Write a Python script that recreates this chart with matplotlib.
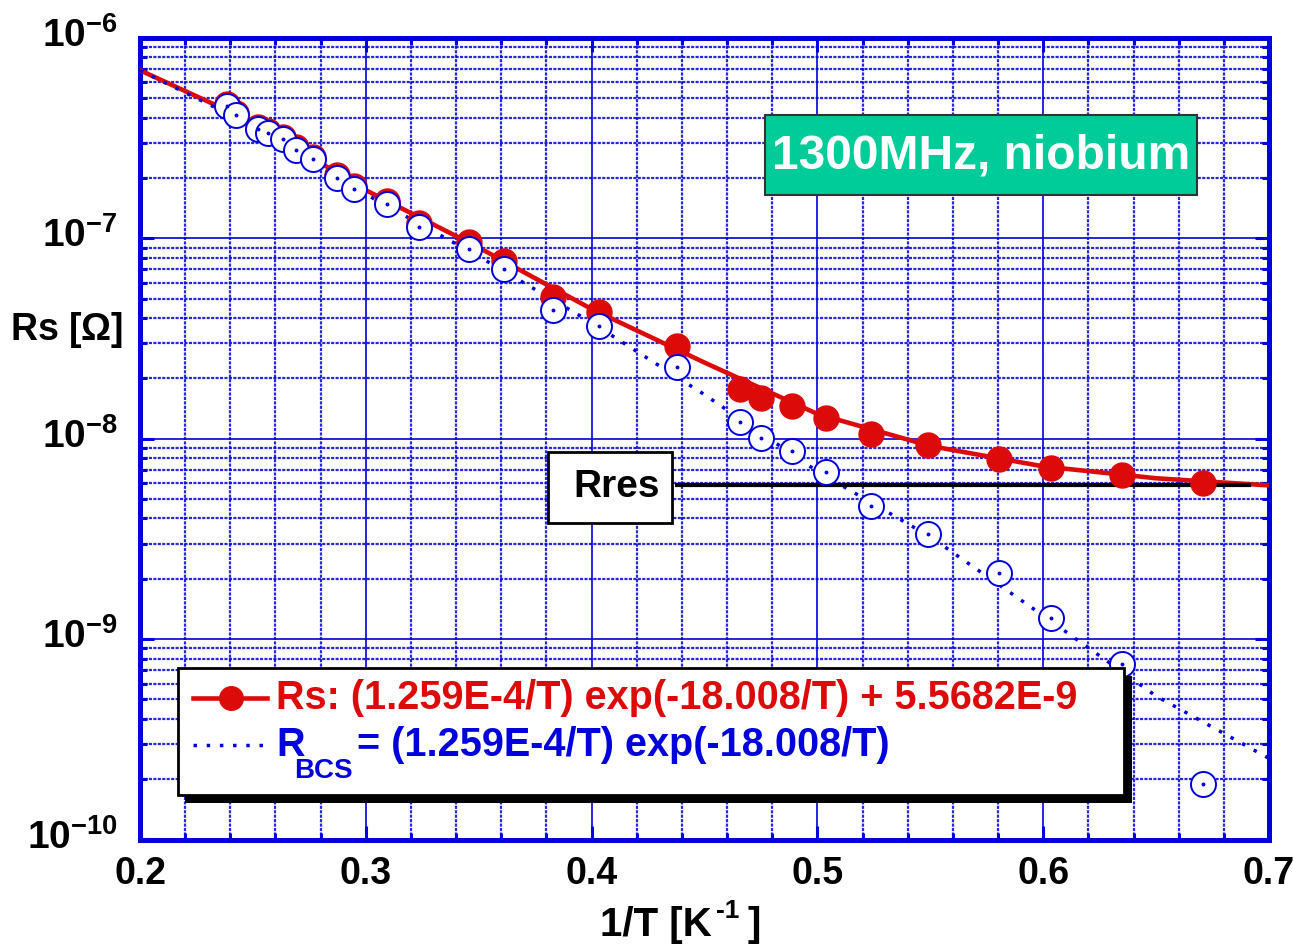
import numpy as np
import matplotlib
matplotlib.use("Agg")
import matplotlib.pyplot as plt
from matplotlib.patches import Rectangle
from matplotlib.lines import Line2D
from matplotlib.transforms import ScaledTranslation
from matplotlib.ticker import FixedLocator, LogLocator, MultipleLocator, FuncFormatter, NullFormatter

inv_T = [0.2384, 0.2425, 0.2521, 0.2566, 0.2633, 0.2691, 0.2766, 0.2874, 0.2949,
         0.3093, 0.3237, 0.3458, 0.3610, 0.3831, 0.4033, 0.4377, 0.4657, 0.4752,
         0.4886, 0.5038, 0.5239, 0.5488, 0.5804, 0.6034, 0.6348, 0.6706]
rs_meas = [4.7e-7, 4.2e-7, 3.6e-7, 3.45e-7, 3.2e-7, 2.85e-7, 2.55e-7, 2.07e-7, 1.83e-7,
           1.54e-7, 1.20e-7, 9.55e-8, 7.69e-8, 5.11e-8, 4.31e-8, 2.90e-8, 1.77e-8, 1.60e-8,
           1.45e-8, 1.27e-8, 1.06e-8, 9.29e-9, 7.94e-9, 7.16e-9, 6.63e-9, 5.98e-9]
rs_bcs = [4.60e-7, 4.12e-7, 3.53e-7, 3.36e-7, 3.12e-7, 2.75e-7, 2.48e-7, 2.01e-7, 1.77e-7,
          1.48e-7, 1.14e-7, 8.81e-8, 7.00e-8, 4.37e-8, 3.67e-8, 2.29e-8, 1.21e-8, 1.01e-8,
          8.67e-9, 6.84e-9, 4.64e-9, 3.33e-9, 2.14e-9, 1.28e-9, 7.48e-10, 1.90e-10]

# fit curves
fit_x = [0.20, 0.25, 0.30, 0.35, 0.40, 0.45, 0.50, 0.55, 0.60, 0.65, 0.70]
fit_rs = [6.9e-7, 3.8e-7, 1.74e-7, 9.0e-8, 4.44e-8, 2.40e-8, 1.33e-8, 9.2e-9, 7.28e-9, 6.35e-9, 5.85e-9]
fit_bcs = [6.9e-7, 3.63e-7, 1.66e-7, 8.13e-8, 3.80e-8, 1.66e-8, 6.87e-9, 3.24e-9, 1.31e-9, 5.2e-10, 2.54e-10]

rres_x = [0.437, 0.692]
rres_val = 5.9e-9

x_ticks = [0.2, 0.3, 0.4, 0.5, 0.6, 0.7]
y_ticks = [1e-10, 1e-9, 1e-8, 1e-7, 1e-6]

title = "1300MHz, niobium"
label_rs = "Rs: (1.259E-4/T) exp(-18.008/T) + 5.5682E-9"
label_bcs = "= (1.259E-4/T) exp(-18.008/T)"

BLUE = "#0000dd"
RED = "#dd0a0a"
TEAL = "#00cc99"
WIDE = ["Liberation Sans", "DejaVu Sans"]
NARROW = ["Liberation Sans Narrow", "Liberation Sans", "DejaVu Sans"]

plt.rcParams["mathtext.fontset"] = "custom"
plt.rcParams["mathtext.bf"] = "Liberation Sans:bold"
plt.rcParams["mathtext.rm"] = "Liberation Sans:bold"

W, H = 1293, 950
fig = plt.figure(figsize=(W / 100, H / 100), dpi=100)
ax = fig.add_axes([140 / W, 1 - 839.5 / H, (1269 - 140) / W, (839.5 - 38) / H])


def fx(px):
    return px / W


def fy(py):
    return 1 - py / H


ax.set_yscale("log")
ax.set_xlim(0.2, 0.7)
ax.set_ylim(1e-10, 1e-6)

ax.xaxis.set_major_locator(FixedLocator(x_ticks))
ax.xaxis.set_minor_locator(MultipleLocator(0.02))
ax.xaxis.set_minor_formatter(NullFormatter())
ax.yaxis.set_major_locator(FixedLocator(y_ticks))
ax.yaxis.set_minor_locator(LogLocator(base=10, subs=np.arange(2, 10), numticks=50))
ax.yaxis.set_minor_formatter(NullFormatter())
ax.yaxis.set_major_formatter(FuncFormatter(lambda v, p: r"$\mathbf{10^{%d}}$" % round(np.log10(v))))
ax.xaxis.set_major_formatter(FuncFormatter(lambda v, p: f"{v:.1f}"))

ax.set_axisbelow(True)
ax.grid(which="major", color=BLUE, lw=1.2, ls="-")
ax.grid(which="minor", color=BLUE, lw=1.6, ls=(0, (1.4, 0.6)), alpha=0.85)

ax.tick_params(which="both", direction="in", top=True, right=True, color=BLUE, width=2.2)
ax.tick_params(which="major", length=10)
ax.tick_params(which="minor", length=5)
ax.tick_params(axis="y", which="major", pad=16, labelsize=28)
ax.tick_params(axis="x", which="major", pad=12, labelsize=27)
for lab in ax.get_xticklabels():
    lab.set_family(NARROW)
    lab.set_weight("bold")
# y labels sit a little above their grid lines in the reference
lift = ScaledTranslation(0, 6 / 100, fig.dpi_scale_trans)
for t in ax.yaxis.get_major_ticks():
    t.label1.set_transform(t.label1.get_transform() + lift)
for sp in ax.spines.values():
    sp.set_color(BLUE)
    sp.set_linewidth(3.6)

# curves
ax.plot(fit_x, fit_rs, color=RED, lw=3.3, zorder=3)
ax.plot(fit_x, fit_bcs, color=BLUE, lw=2.5, ls=(0, (1, 2.8)), zorder=4)
ax.plot(rres_x, [rres_val, rres_val], color="black", lw=3.0, zorder=4, solid_capstyle="butt")
ax.plot(inv_T, rs_meas, ls="none", marker="o", ms=18, color=RED, zorder=5)
ax.plot(inv_T, rs_bcs, ls="none", marker="o", ms=18, mfc="white", mec=BLUE, mew=1.4, zorder=6)
ax.plot(inv_T, rs_bcs, ls="none", marker="o", ms=1.8, color=BLUE, zorder=7)

# axis labels
fig.text(fx(67), fy(330), r"Rs [$\Omega$]", ha="center", va="center", fontsize=27,
         fontweight="bold", family=WIDE)
fig.text(fx(712), fy(925), "1/T [K", ha="right", va="center", fontsize=29,
         fontweight="bold", family=NARROW)
fig.text(fx(716), fy(911), "-1", ha="left", va="center", fontsize=19,
         fontweight="bold", family=NARROW)
fig.text(fx(748), fy(925), "]", ha="left", va="center", fontsize=29,
         fontweight="bold", family=NARROW)

# title box
fig.add_artist(Rectangle((fx(765), fy(195)), fx(1197) - fx(765), fy(115) - fy(195),
                         transform=fig.transFigure, facecolor=TEAL, edgecolor="#333333",
                         lw=1.5, zorder=10))
fig.text(fx(981), fy(156), title, ha="center", va="center", color="white", fontsize=34.5,
         fontweight="bold", family=WIDE, zorder=11)

# Rres box
fig.add_artist(Rectangle((fx(548), fy(523)), fx(672) - fx(548), fy(452) - fy(523),
                         transform=fig.transFigure, facecolor="white", edgecolor="black",
                         lw=2.0, zorder=10))
fig.text(fx(617), fy(487), "Rres", ha="center", va="center", color="black", fontsize=28,
         fontweight="bold", family=WIDE, zorder=11)

# legend box with shadow
fig.add_artist(Rectangle((fx(185), fy(803)), fx(1132) - fx(185), fy(676) - fy(803),
                         transform=fig.transFigure, facecolor="black", edgecolor="black",
                         lw=0, zorder=10))
fig.add_artist(Rectangle((fx(178), fy(795)), fx(1124) - fx(178), fy(668) - fy(795),
                         transform=fig.transFigure, facecolor="white", edgecolor="black",
                         lw=2.0, zorder=11))
fig.add_artist(Line2D([fx(193), fx(267)], [fy(698), fy(698)], transform=fig.transFigure,
                      color=RED, lw=3.3, zorder=12))
fig.add_artist(Line2D([fx(231)], [fy(698)], transform=fig.transFigure, color=RED,
                      marker="o", ms=17, ls="none", zorder=13))
fig.add_artist(Line2D([fx(193), fx(267)], [fy(745), fy(745)], transform=fig.transFigure,
                      color=BLUE, lw=2.5, ls=(0, (1, 2.8)), zorder=12))
fig.text(fx(276), fy(698), label_rs, ha="left", va="center", color=RED, fontsize=28.5,
         fontweight="bold", family=NARROW, zorder=13)
fig.text(fx(276), fy(745), "R", ha="left", va="center", color=BLUE, fontsize=28.5,
         fontweight="bold", family=NARROW, zorder=13)
fig.text(fx(294), fy(771), "BCS", ha="left", va="center", color=BLUE, fontsize=20,
         fontweight="bold", family=NARROW, zorder=13)
fig.text(fx(357), fy(745), label_bcs, ha="left", va="center", color=BLUE, fontsize=28.5,
         fontweight="bold", family=NARROW, zorder=13)

fig.savefig("out.png", dpi=100)
